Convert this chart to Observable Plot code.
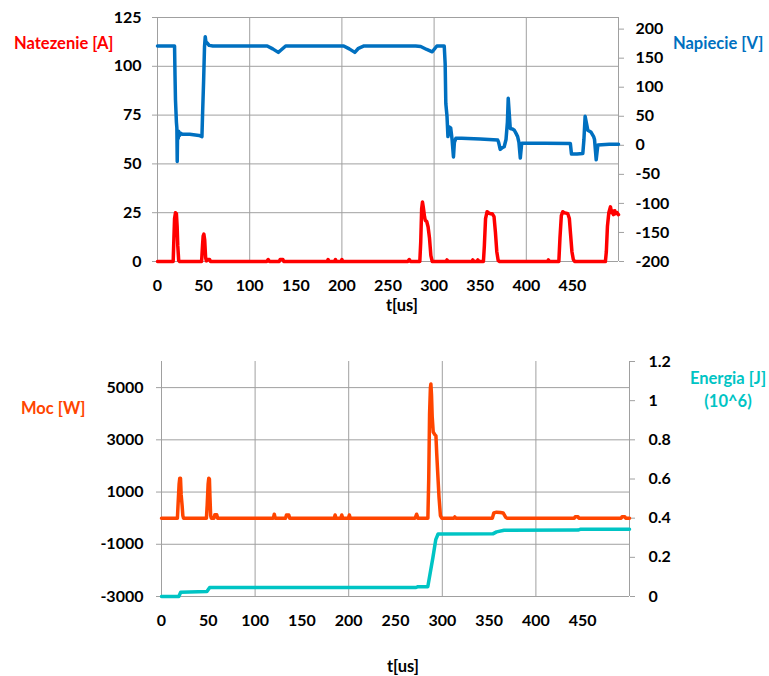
<!DOCTYPE html>
<html>
<head>
<meta charset="utf-8">
<script src="https://cdn.jsdelivr.net/npm/d3@7"></script>
<script src="https://cdn.jsdelivr.net/npm/@observablehq/plot@0.6"></script>
<style>
  html, body { margin: 0; padding: 0; background: #fff; }
  #wrap { position: relative; width: 769px; height: 676px; font-family: Lato, "Open Sans", sans-serif; font-weight: bold; }
  .panel { position: absolute; left: 0; }
  .lbl { position: absolute; font-size: 16.5px; font-weight: bold; white-space: nowrap; line-height: 16px; }
</style>
</head>
<body>
<div id="wrap"></div>
<script>
// ---------- DATA ----------
const xTicks = [0, 50, 100, 150, 200, 250, 300, 350, 400, 450];
const xGrid = [0, 100, 200, 300, 400, 500];
const currentTicks = [0, 25, 50, 75, 100, 125];
const voltageTicks = [-200, -150, -100, -50, 0, 50, 100, 150, 200];
const powerTicks = [-3000, -1000, 1000, 3000, 5000];
const energyTicks = [0, 0.2, 0.4, 0.6, 0.8, 1, 1.2];

// Napiecie [V]
const voltT = [0, 18.5, 19, 19.5, 20.5, 21, 21.4, 21.8, 22.5, 23, 24, 25, 27, 35, 45, 48.2, 49, 50, 51, 51.8, 52.5, 54, 56, 60, 80, 100, 119, 125, 131, 134, 139, 160, 180, 202, 208, 214, 218, 224, 250, 280, 285.5, 292, 298, 303, 311, 312, 312.7, 314, 315, 316, 318, 319.5, 321, 322, 323.6, 330, 350, 369, 370, 371.7, 374, 376, 378, 379.5, 380.4, 381.5, 382.6, 385, 387, 389, 390.6, 392, 393.5, 395, 420, 447.8, 449, 455, 461.3, 462.5, 463.8, 465, 466.7, 470, 473, 474, 475.8, 477.6, 490, 500];
const voltV = [171, 171, 120, 78, 40, 30, -28, 25, 12, 24, 17, 21, 19, 19, 17, 15, 60, 110, 170, 187, 178, 176, 172, 171, 171, 171, 171, 166, 160, 164, 171, 171, 171, 171, 166, 160, 167, 171, 171, 171, 170, 165, 161, 171, 171, 140, 72, 50, 15, 32, 30, 10, -20, 5, 12, 12, 11, 9, 5, -7, -4, -2.5, 10, 40, 81, 55, 29, 28, 26, 20, 15, 5, -22, 3.4, 3.4, 3, -15, -15, -14, 10, 50, 40, 26, 23, 15, 10, -25, 0.5, 1.7, 1.7];

// Natezenie [A]
const currT = [0, 17, 17.8, 18.5, 19.5, 20.5, 21.3, 22, 23, 24, 47.8, 48.8, 49.5, 50.3, 51.2, 52.2, 53, 54.5, 56.5, 57.5, 118.5, 120, 121.5, 132, 133, 136, 137, 184, 185, 186, 192, 193, 194, 199, 200, 201, 271.5, 273, 274.5, 284.5, 285.5, 286.5, 287.4, 288.2, 288.8, 289.6, 290.5, 292, 293.5, 295, 296.5, 298, 313, 314, 315, 341, 342, 343, 346.5, 347.5, 348.5, 353.5, 354.5, 355.8, 357.5, 359, 361, 363, 365, 366.5, 368, 369.5, 371, 423, 424, 425, 435.3, 436.5, 438, 439.5, 441, 443, 445, 446.7, 448, 449.5, 451, 452.5, 485.8, 486.8, 488, 489.5, 491.3, 492.5, 493.5, 494.5, 496, 497, 498.5, 500];
const currA = [0, 0, 12, 22, 25, 24.5, 18, 8, 0.5, 0, 0, 8, 13, 14, 11, 2, 0.3, 1, 1, 0, 0, 1, 0, 0, 1, 1, 0, 0, 1, 0, 0, 1, 0, 0, 1, 0, 0, 1, 0, 0, 10, 27, 30.5, 28, 26, 23, 21, 20.5, 17.7, 12, 3, 0, 0, 0.8, 0, 0, 0.8, 0, 0, 0.8, 0, 0, 8, 22, 25.5, 25, 24.5, 24.5, 23, 15, 5, 0.5, 0, 0, 0.8, 0, 0, 12, 23.5, 25.5, 25, 24.8, 24.5, 22, 14, 5, 1, 0, 0, 5, 18, 25, 28, 25, 26, 24, 26, 24.5, 25, 24];

// Moc [W]
const powT = [0, 17, 17.8, 18.8, 19.5, 20.3, 21, 22, 22.8, 23.5, 48, 48.8, 49.8, 50.5, 51.2, 51.8, 52.5, 53.2, 56, 57, 59, 60, 119.5, 120.5, 121.5, 132.5, 133.5, 136, 137, 184.5, 185.5, 186.5, 191.5, 192.6, 193.6, 199.7, 200.7, 201.7, 271, 272.6, 274, 284.6, 285.5, 286.4, 287.3, 287.8, 288.5, 289.2, 290.3, 292, 293.2, 294, 295, 296.5, 298, 299.5, 312.5, 313.4, 314.3, 353.5, 355, 358, 362, 365, 367.8, 369, 441, 442, 445, 446, 491, 492, 495, 496, 500];
const powW = [0, 0, 600, 1300, 1530, 1530, 900, 500, 100, 0, 0, 500, 1300, 1530, 1500, 800, 100, 0, 0, 130, 130, 0, 0, 150, 0, 0, 120, 120, 0, 0, 120, 0, 0, 120, 0, 0, 120, 0, 0, 150, 0, 0, 1500, 4000, 5000, 5140, 4700, 3900, 3300, 3200, 3150, 2500, 1800, 800, 100, 0, 0, 50, 0, 0, 200, 230, 220, 200, 30, 0, 0, 50, 50, 0, 0, 50, 50, 0, 0];

// Energia [J] (10^6)
const enT = [0, 18.5, 20.5, 48.5, 51.5, 272, 274, 284.5, 290, 293, 295.5, 354, 358, 366, 445, 448, 500];
const enE = [0, 0, 0.022, 0.025, 0.046, 0.046, 0.05, 0.05, 0.2, 0.29, 0.319, 0.32, 0.33, 0.338, 0.339, 0.344, 0.344];

// ---------- COLOURS ----------
const cCurr = "#FF0000", cVolt = "#0070C0", cPow = "#FF4500", cEn = "#00C4C4";
const gridC = "#A0A0A0";

// ---------- HELPERS ----------
const voltToA = v => (v + 200) * 125 / 420;      // right axis [-200,220] -> left [0,125]
const enToW = e => -3000 + e * 7500;            // right axis [0,1.2] -> left [-3000,6000]
const rows = (ts, vs) => ts.map((t, i) => ({t, v: vs[i]}));

const baseStyle = {fontFamily: "Lato, 'Open Sans', sans-serif", fontSize: "16px", fontWeight: "bold", color: "#000", background: "#fff", overflow: "visible"};

// ---------- TOP PANEL ----------
const chartTop = Plot.plot({
  width: 769, height: 300,
  marginTop: 17, marginBottom: 39, marginLeft: 157, marginRight: 151,
  style: baseStyle,
  x: {domain: [0, 500]},
  y: {domain: [0, 125]},
  marks: [
    Plot.gridY(currentTicks, {stroke: gridC, strokeOpacity: 1}),
    Plot.gridX(xGrid, {stroke: gridC, strokeOpacity: 1}),
    Plot.axisY({ticks: currentTicks, anchor: "left", tickSize: 5, tickPadding: 11, stroke: gridC, fill: "#000", label: null}),
    Plot.axisY({ticks: voltageTicks.map(voltToA), anchor: "right", tickSize: 5, tickPadding: 12, stroke: gridC, fill: "#000", label: null,
      tickFormat: d => String(Math.round(d * 420 / 125 - 200))}),
    Plot.axisX({ticks: xTicks, anchor: "bottom", tickSize: 0, tickPadding: 18, fill: "#000", label: null}),
    Plot.line(rows(currT, currA), {x: "t", y: "v", stroke: cCurr, strokeWidth: 3.5, strokeLinejoin: "round"}),
    Plot.line(rows(voltT, voltV), {x: "t", y: d => voltToA(d.v), stroke: cVolt, strokeWidth: 3.5, strokeLinejoin: "round"})
  ]
});

// ---------- BOTTOM PANEL ----------
const chartBottom = Plot.plot({
  width: 769, height: 300,
  marginTop: 31, marginBottom: 34, marginLeft: 161, marginRight: 140,
  style: baseStyle,
  x: {domain: [0, 500]},
  y: {domain: [-3000, 6000]},
  marks: [
    Plot.gridY(powerTicks, {stroke: gridC, strokeOpacity: 1}),
    Plot.gridX(xGrid, {stroke: gridC, strokeOpacity: 1}),
    Plot.axisY({ticks: powerTicks, anchor: "left", tickSize: 5, tickPadding: 13, stroke: gridC, fill: "#000", label: null, tickFormat: d => String(d)}),
    Plot.axisY({ticks: energyTicks.map(enToW), anchor: "right", tickSize: 5, tickPadding: 14, stroke: gridC, fill: "#000", label: null,
      tickFormat: d => String(+(((d + 3000) / 7500).toFixed(1)))}),
    Plot.axisX({ticks: xTicks, anchor: "bottom", tickSize: 0, tickPadding: 18, fill: "#000", label: null}),
    Plot.line(rows(enT, enE), {x: "t", y: d => enToW(d.v), stroke: cEn, strokeWidth: 3.5, strokeLinejoin: "round"}),
    Plot.line(rows(powT, powW), {x: "t", y: "v", stroke: cPow, strokeWidth: 3.5, strokeLinejoin: "round"})
  ]
});

const wrap = document.getElementById("wrap");
const p1 = document.createElement("div"); p1.className = "panel"; p1.style.top = "0px"; p1.appendChild(chartTop); wrap.appendChild(p1);
const p2 = document.createElement("div"); p2.className = "panel"; p2.style.top = "330px"; p2.appendChild(chartBottom); wrap.appendChild(p2);

function addLabel(text, x, y, color, align) {
  const d = document.createElement("div");
  d.className = "lbl";
  d.textContent = text;
  d.style.color = color;
  d.style.top = (y - 8) + "px";
  d.style.left = x + "px";
  if (align === "center") d.style.transform = "translateX(-50%)";
  wrap.appendChild(d);
}
addLabel("Natezenie [A]", 14, 43, cCurr);
addLabel("Napiecie [V]", 673, 43, cVolt);
addLabel("t[us]", 402, 305, "#000", "center");
addLabel("Moc [W]", 21, 408, cPow);
addLabel("Energia [J]", 728, 378, cEn, "center");
addLabel("(10^6)", 728, 401, cEn, "center");
addLabel("t[us]", 403, 666, "#000", "center");
</script>
</body>
</html>
